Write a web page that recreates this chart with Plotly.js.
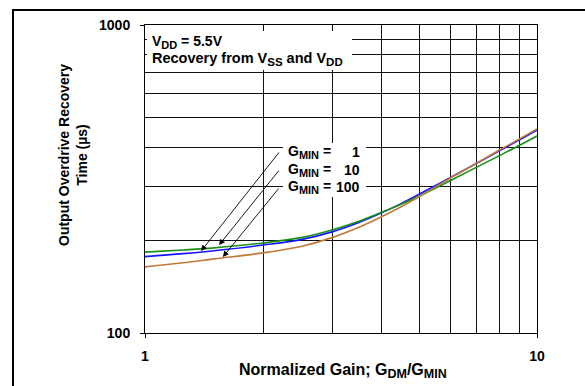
<!DOCTYPE html>
<html>
<head>
<meta charset="utf-8">
<script src="https://cdn.plot.ly/plotly-3.0.1.min.js"></script>
<style>
  html, body { margin: 0; padding: 0; background: #fff; }
  #wrap { position: relative; width: 585px; height: 386px; overflow: hidden; }
  #frame { position: absolute; left: 12px; top: 9px; width: 600px; height: 400px;
           border-left: 2px solid #000; border-top: 2px solid #000; pointer-events: none; }
  #chart { position: absolute; left: 0; top: 0; width: 585px; height: 386px; }
</style>
</head>
<body>
<div id="wrap">
  <div id="chart"></div>
  <div id="frame"></div>
</div>
<script>
// Normalized gain G_DM/G_MIN
const gainX = [1, 1.25, 1.5, 2, 2.5, 3, 3.5, 4, 4.5, 5, 6, 7, 8, 9, 10];
// Output overdrive recovery time (µs)
const recGmin1   = [177, 181, 185, 193, 201, 213, 228, 245, 263, 282, 319, 355, 390, 423, 456];
const recGmin10  = [183, 186, 189, 196, 204, 216, 230, 246, 262, 278, 312, 345, 376, 406, 436];
const recGmin100 = [164, 169, 174, 182, 191, 204, 220, 238, 257, 277, 318, 355, 392, 426, 460];
const gminValues = [1, 10, 100];
const seriesColors = ['#1414ff', '#16901a', '#c07a3c'];
const xTickVals = [1, 10];
const yTickVals = [100, 1000];
const xMinor = [2, 3, 4, 5, 6, 7, 8, 9];
const yMinor = [200, 300, 400, 500, 600, 700, 800, 900];

const FONT = 'Arial, "Liberation Sans", sans-serif';
const series = [recGmin1, recGmin10, recGmin100];
const sub = (s, size) => '<sub><span style="font-size:' + size + 'px">' + s + '</span></sub>';

const traces = series.map((ys, i) => ({
  x: gainX, y: ys, type: 'scatter', mode: 'lines',
  name: 'G_MIN = ' + gminValues[i],
  line: { color: seriesColors[i], width: 1.6, shape: 'spline', smoothing: 1 },
  hoverinfo: 'skip'
}));

// pixel helpers relative to plot area (paper coords)
const L = 145, R = 537, T = 25, B = 333;
const px = v => (v - L) / (R - L);
const py = v => (B - v) / (B - T);

const legendRows = [152, 170, 187];
const annotations = [];
gminValues.forEach((g, i) => {
  annotations.push({
    xref: 'paper', yref: 'paper', x: px(286), y: py(legendRows[i]),
    xanchor: 'left', yanchor: 'middle', showarrow: false,
    text: '<b>G' + sub('MIN', 11) + ' =</b>', font: { family: FONT, size: 14, color: '#000' }
  });
  annotations.push({
    xref: 'paper', yref: 'paper', x: px(362), y: py(legendRows[i]),
    xanchor: 'right', yanchor: 'middle', showarrow: false,
    text: '<b>' + g + '</b>', font: { family: FONT, size: 14, color: '#000' }
  });
});

// arrows from labels to curves (tip in data coords, tail offset in px)
const arrowTips = [
  { x: 1.39, y: 184.5, ax: 79, ay: -100 },
  { x: 1.545, y: 193, ax: 61, ay: -76 },
  { x: 1.58, y: 176.5, ax: 57, ay: -70 }
];
arrowTips.forEach(a => annotations.push({
  x: Math.log10(a.x), y: Math.log10(a.y), xref: 'x', yref: 'y',
  ax: a.ax, ay: a.ay, showarrow: true, text: '',
  arrowhead: 2, arrowsize: 1.3, arrowwidth: 0.9, arrowcolor: '#000', standoff: 0
}));

annotations.push({
  xref: 'paper', yref: 'paper', x: px(150), y: py(42),
  xanchor: 'left', yanchor: 'middle', showarrow: false, align: 'left',
  text: '<b>V' + sub('DD', 11) + ' = 5.5V</b>',
  font: { family: FONT, size: 14, color: '#000' }
});
annotations.push({
  xref: 'paper', yref: 'paper', x: px(150), y: py(59),
  xanchor: 'left', yanchor: 'middle', showarrow: false, align: 'left',
  text: '<b>Recovery from V' + sub('SS', 11.5) + ' and V' + sub('DD', 11.5) + '</b>',
  font: { family: FONT, size: 14.5, color: '#000' }
});
annotations.push({
  xref: 'paper', yref: 'paper', x: px(343), y: py(371),
  xanchor: 'center', yanchor: 'middle', showarrow: false,
  text: '<b>Normalized Gain; G' + sub('DM', 12.5) + '/G' + sub('MIN', 12.5) + '</b>',
  font: { family: FONT, size: 16, color: '#000' }
});
annotations.push({
  xref: 'paper', yref: 'paper', x: px(73), y: py(155),
  xanchor: 'center', yanchor: 'middle', showarrow: false, textangle: -90,
  text: '<b>Output Overdrive Recovery<br>Time (µs)</b>',
  font: { family: FONT, size: 14, color: '#000' }
});

const shapes = [
  { type: 'rect', xref: 'paper', yref: 'paper', layer: 'above',
    x0: px(147), x1: px(352), y0: py(70), y1: py(31),
    fillcolor: '#fff', line: { width: 0 } },
  { type: 'rect', xref: 'paper', yref: 'paper', layer: 'above',
    x0: px(283), x1: px(366), y0: py(197), y1: py(143),
    fillcolor: '#fff', line: { width: 0 } }
];

const axisCommon = {
  type: 'log', showline: true, mirror: true, linecolor: '#000', linewidth: 1,
  ticks: 'outside', ticklen: 4, tickcolor: '#000', tickwidth: 1,
  showgrid: false, zeroline: false, fixedrange: true,
  tickfont: { family: FONT, size: 14, color: '#000', weight: 'bold' }
};

const layout = {
  width: 585, height: 386,
  margin: { l: L, r: 585 - R, t: T, b: 386 - B },
  paper_bgcolor: '#fff', plot_bgcolor: '#fff',
  showlegend: false,
  xaxis: Object.assign({}, axisCommon, {
    range: [0, 1], tickvals: xTickVals, ticktext: xTickVals.map(String),
    ticklabelstandoff: 6,
    minor: { tickvals: xMinor, showgrid: true, gridcolor: '#111', gridwidth: 1, ticks: '' }
  }),
  yaxis: Object.assign({}, axisCommon, {
    range: [2, 3], tickvals: yTickVals, ticktext: yTickVals.map(String),
    ticklabelstandoff: 7,
    minor: { tickvals: yMinor, showgrid: true, gridcolor: '#111', gridwidth: 1, ticks: '' }
  }),
  annotations: annotations,
  shapes: shapes
};

Plotly.newPlot('chart', traces, layout, { displayModeBar: false, staticPlot: true });
</script>
</body>
</html>
